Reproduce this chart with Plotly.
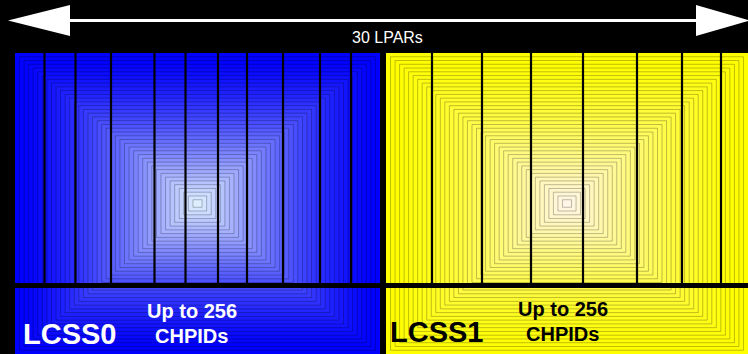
"""
LCSS diagram: two logical channel subsystems sharing 30 LPARs
"""

import plotly.graph_objects as go

# --- data ---
lpar_total = 30
lcss_names = ['LCSS0', 'LCSS1']
chpid_max = [256, 256]
# LPAR boundaries inside each LCSS (horizontal position, same scale as the panels)
lcss0_lpar_edges = [44.5, 75.5, 111, 154.5, 185.5, 218, 247, 283, 320, 351]
lcss1_lpar_edges = [432, 482, 531, 583, 637, 682, 721]

# --- layout of the picture (pixel-like axis units) ---
W, H = 748, 354
paineis = [
    dict(x0=15, x1=380, y0=53, y1=354, outer=(0, 0, 255), inner=(222, 238, 255),
         txt='white'),
    dict(x0=386, x1=748, y0=53, y1=354, outer=(255, 255, 0), inner=(255, 246, 230),
         txt='black'),
]
linha_divisoria = 285.5
N = 40

fonte = 'Liberation Sans, Arial, sans-serif'

fig = go.Figure()
shapes = []

# gradiente "retangular" feito de retângulos concêntricos
for p in paineis:
    cx = (p['x0'] + p['x1']) / 2
    cy = (p['y0'] + p['y1']) / 2
    hw = (p['x1'] - p['x0']) / 2
    hh = (p['y1'] - p['y0']) / 2
    for k in range(N):
        f = 1 - k / N
        t = (k / (N - 1)) ** 1.45
        r, g, b = [int(o + (i - o) * t) for o, i in zip(p['outer'], p['inner'])]
        shapes.append(dict(
            type='rect', xref='x', yref='y', layer='below',
            x0=cx - hw * f, x1=cx + hw * f, y0=cy - hh * f, y1=cy + hh * f,
            fillcolor=f'rgb({r},{g},{b})',
            line=dict(color='rgba(0,0,0,0.25)', width=1 if k > 0 else 0)
        ))

# seta "30 LPARs"
shapes.append(dict(type='line', xref='x', yref='y', x0=65, x1=700, y0=20.5, y1=20.5,
                   line=dict(color='white', width=3)))
shapes.append(dict(type='path', xref='x', yref='y', path='M 8 20.5 L 70 5 L 70 36 Z',
                   fillcolor='white', line=dict(width=0)))
shapes.append(dict(type='path', xref='x', yref='y', path='M 750 20.5 L 696 5 L 696 36 Z',
                   fillcolor='white', line=dict(width=0)))

# linhas das LPARs
xs, ys = [], []
for edges in [lcss0_lpar_edges, lcss1_lpar_edges]:
    for x in edges:
        xs.extend([x, x, None])
        ys.extend([paineis[0]['y0'], linha_divisoria, None])

fig.add_trace(go.Scatter(
    x=xs, y=ys, mode='lines',
    line=dict(color='black', width=2.2),
    hoverinfo='none'
))

fig.add_trace(go.Scatter(
    x=[paineis[0]['x0'], W], y=[linha_divisoria, linha_divisoria], mode='lines',
    line=dict(color='black', width=5),
    hoverinfo='none'
))

anotacoes = [dict(
    text=f'{lpar_total} LPARs', x=387, y=37, xref='x', yref='y', showarrow=False,
    font=dict(family=fonte, size=16, color='white')
)]

pos_nome = [(21, 334), (388, 332)]
pos_chpid = [(191.5, 310.5, 336), (562.5, 308.5, 333.5)]
for nome, cmax, p, pn, pc in zip(lcss_names, chpid_max, paineis, pos_nome, pos_chpid):
    anotacoes.append(dict(
        text=f'<b>{nome}</b>', x=pn[0], y=pn[1], xref='x', yref='y', showarrow=False,
        xanchor='left', font=dict(family=fonte, size=29, color=p['txt'])
    ))
    anotacoes.append(dict(
        text=f'<b>Up to {cmax}</b>', x=pc[0], y=pc[1], xref='x', yref='y', showarrow=False,
        font=dict(family=fonte, size=20, color=p['txt'])
    ))
    anotacoes.append(dict(
        text='<b>CHPIDs</b>', x=pc[0], y=pc[2], xref='x', yref='y', showarrow=False,
        font=dict(family=fonte, size=20, color=p['txt'])
    ))

fig.update_layout(
    width=W, height=H,
    margin=dict(l=0, r=0, t=0, b=0),
    paper_bgcolor='black',
    plot_bgcolor='black',
    showlegend=False,
    shapes=shapes,
    annotations=anotacoes,
    xaxis=dict(range=[0, W], visible=False, fixedrange=True),
    yaxis=dict(range=[H, 0], visible=False, fixedrange=True),
)

fig.write_html(
    'out.html',
    config={'displayModeBar': False},
    post_script="document.body.style.margin='0'; document.body.style.background='black';"
)
